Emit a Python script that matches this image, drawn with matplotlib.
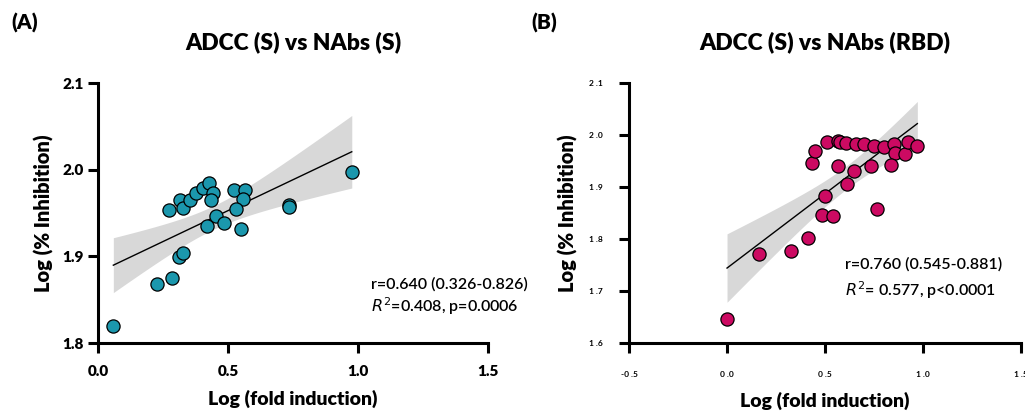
import numpy as np
import matplotlib
matplotlib.use("Agg")
import matplotlib.pyplot as plt

plt.rcParams['font.family'] = ['Lato', 'DejaVu Sans']

# ADCC (S) vs NAbs (S)
s_fold = [0.059, 0.226, 0.286, 0.310, 0.326, 0.273, 0.315, 0.326, 0.353, 0.377,
          0.405, 0.428, 0.444, 0.433, 0.421, 0.454, 0.486, 0.523, 0.564, 0.558,
          0.532, 0.550, 0.735, 0.735, 0.976]
s_inhib = [1.820, 1.868, 1.875, 1.899, 1.904, 1.953, 1.965, 1.956, 1.965, 1.973,
           1.979, 1.985, 1.973, 1.965, 1.935, 1.947, 1.938, 1.976, 1.976, 1.966,
           1.955, 1.932, 1.959, 1.957, 1.997]

# ADCC (S) vs NAbs (RBD)
rbd_fold = [0.000, 0.162, 0.325, 0.415, 0.487, 0.541, 0.498, 0.614, 0.648, 0.434,
            0.451, 0.509, 0.565, 0.575, 0.607, 0.660, 0.697, 0.566, 0.733, 0.752,
            0.803, 0.850, 0.857, 0.837, 0.907, 0.925, 0.971, 0.764]
rbd_inhib = [1.646, 1.771, 1.776, 1.801, 1.846, 1.845, 1.883, 1.905, 1.930, 1.947,
             1.970, 1.987, 1.988, 1.987, 1.984, 1.982, 1.983, 1.940, 1.940, 1.978,
             1.976, 1.982, 1.966, 1.943, 1.964, 1.986, 1.979, 1.858]

stats_s = ["r=0.640 (0.326-0.826)", r"$R^2$=0.408, p=0.0006"]
stats_rbd = ["r=0.760 (0.545-0.881)", r"$R^2$= 0.577, p<0.0001"]

b_yticks = [1.6, 1.7, 1.8, 1.9, 2.0, 2.1]
b_ylabels = ["1 .6", "1 .7", "1 .8", "1 .9", "2 .0", "2 .1"]
b_xticks = [-0.5, 0.0, 0.5, 1.0, 1.5]
b_xlabels = ["-0 .5", "0 .0", "0 .5", "1 .0", "1 .5"]


def fit_band(ax, x, y, tcrit):
    x = np.array(x)
    y = np.array(y)
    n = len(x)
    slope, icpt = np.polyfit(x, y, 1)
    xs = np.linspace(x.min(), x.max(), 100)
    ys = slope * xs + icpt
    resid = y - (slope * x + icpt)
    se = np.sqrt(np.sum(resid ** 2) / (n - 2))
    sxx = np.sum((x - x.mean()) ** 2)
    half = tcrit * se * np.sqrt(1.0 / n + (xs - x.mean()) ** 2 / sxx)
    ax.fill_between(xs, ys - half, ys + half, color="#d8d8d8", lw=0, zorder=1)
    ax.plot(xs, ys, color="black", lw=1.0, zorder=2)


def style(ax):
    for side in ["top", "right"]:
        ax.spines[side].set_visible(False)
    for side in ["left", "bottom"]:
        ax.spines[side].set_linewidth(2.2)
    ax.tick_params(width=2.2, length=7, direction="out")


fig = plt.figure(figsize=(10.25, 4.18), dpi=100)

# panel A
ax1 = fig.add_axes([0.0956, 0.1794, 0.3805, 0.622])
fit_band(ax1, s_fold, s_inhib, 2.069)
ax1.scatter(s_fold, s_inhib, s=90, color="#1b97ad", edgecolor="black",
            linewidth=0.9, zorder=3, clip_on=False)
ax1.set_xlim(0, 1.5)
ax1.set_ylim(1.8, 2.1)
ax1.set_xticks([0.0, 0.5, 1.0, 1.5])
ax1.set_yticks([1.8, 1.9, 2.0, 2.1])
style(ax1)
for lab in ax1.get_xticklabels() + ax1.get_yticklabels():
    lab.set_fontweight("heavy")
    lab.set_fontsize(11)
ax1.tick_params(axis="x", pad=9)
ax1.tick_params(axis="y", pad=3)
ax1.set_xlabel("Log (fold induction)", fontsize=14, fontweight="heavy", labelpad=8)
ax1.set_ylabel("Log (% Inhibition)", fontsize=14.5, fontweight="heavy", labelpad=6)
ax1.set_title("ADCC (S) vs NAbs (S)", fontsize=16.5, fontweight="heavy", pad=24)
ax1.text(0.7, 0.21, stats_s[0], transform=ax1.transAxes, fontsize=11.5, fontweight="semibold")
ax1.text(0.7, 0.12, stats_s[1], transform=ax1.transAxes, fontsize=11.5, fontweight="semibold")

# panel B
ax2 = fig.add_axes([0.6137, 0.1794, 0.3824, 0.622])
fit_band(ax2, rbd_fold, rbd_inhib, 2.056)
ax2.scatter(rbd_fold, rbd_inhib, s=90, color="#cc0a62", edgecolor="black",
            linewidth=0.9, zorder=3, clip_on=False)
ax2.set_xlim(-0.5, 1.5)
ax2.set_ylim(1.6, 2.1)
ax2.set_xticks(b_xticks)
ax2.set_xticklabels(b_xlabels, fontsize=6, fontweight="bold")
ax2.set_yticks(b_yticks)
ax2.set_yticklabels(b_ylabels, fontsize=6, fontweight="bold")
style(ax2)
ax2.tick_params(axis="x", pad=13)
ax2.tick_params(axis="y", pad=12)
ax2.set_xlabel("Log (fold induction)", fontsize=14, fontweight="heavy", labelpad=10)
ax2.set_ylabel("Log (% Inhibition)", fontsize=14.5, fontweight="heavy", labelpad=8)
ax2.set_title("ADCC (S) vs NAbs (RBD)", fontsize=16.5, fontweight="heavy", pad=24)
ax2.text(0.55, 0.285, stats_rbd[0], transform=ax2.transAxes, fontsize=11.5, fontweight="semibold")
ax2.text(0.55, 0.18, stats_rbd[1], transform=ax2.transAxes, fontsize=11.5, fontweight="semibold")

fig.text(0.011, 0.93, "(A)", fontsize=15, fontweight="heavy")
fig.text(0.518, 0.93, "(B)", fontsize=15, fontweight="heavy")

fig.savefig("out.png", dpi=100)
